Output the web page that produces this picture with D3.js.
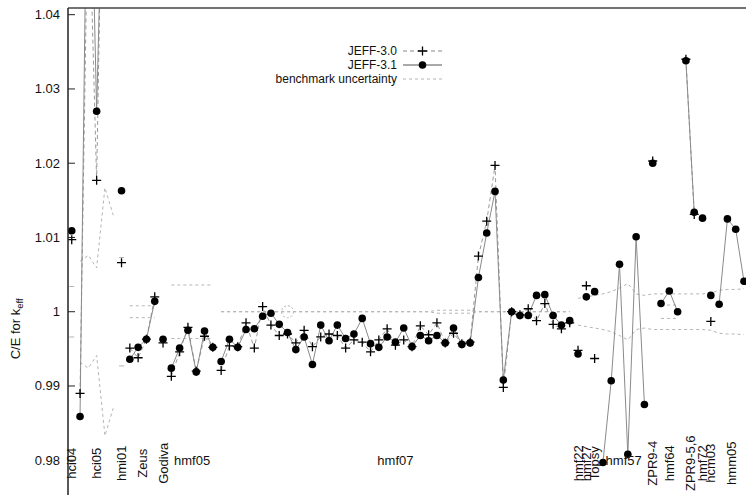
<!DOCTYPE html>
<html><head><meta charset="utf-8">
<script src="https://cdn.jsdelivr.net/npm/d3@7"></script>
<style>
body{margin:0;background:#fff}
svg{display:block}
text{font-family:"Liberation Sans",Arial,Helvetica,sans-serif;fill:#111}
</style>
</head><body>
<svg id="chart" width="746" height="495"></svg>
<script>
// C/E values for k_eff, one entry per benchmark case (index along the x axis)
const jeff30 = [
  1.0097,
  0.9890, 1.0590, 1.0177, 1.0820, 1.0700,
  1.0066,
  0.9951, 0.9938, 0.9963, 1.0020,
  0.9958,
  0.9913, 0.9946, 0.9979, 0.9920, 0.9967, 0.9952,
  0.9921, 0.9954, 0.9953, 0.9985, 0.9951, 1.0007, 0.9982, 0.9968, 0.9970, 0.9958,
  0.9975, 0.9953, 0.9966, 0.9970, 0.9968, 0.9951, 0.9962, 0.9959, 0.9946, 0.9962,
  0.9977, 0.9955, 0.9962, 0.9953, 0.9981, 0.9969, 0.9985, 0.9958, 0.9971, 0.9957,
  0.9959, 1.0075, 1.0122, 1.0197, 0.9898, 1.0000, 0.9996, 1.0004, 0.9988, 1.0011,
  0.9983, 0.9977, 0.9985,
  0.9948,
  1.0035,
  0.9937,
  null, null, null, null, null, null,
  1.0203,
  null, null, null,
  1.0340, 1.0131,
  null,
  0.9987,
  null, null, null, null
];
const jeff31 = [
  1.0109,
  0.9859, 1.0770, 1.0270, 1.0720, 1.0650,
  1.0163,
  0.9936, 0.9952, 0.9963, 1.0014,
  0.9963,
  0.9924, 0.9951, 0.9975, 0.9919, 0.9974, 0.9952,
  0.9933, 0.9963, 0.9952, 0.9976, 0.9977, 0.9994, 0.9998, 0.9983, 0.9972, 0.9949,
  0.9966, 0.9929, 0.9982, 0.9961, 0.9982, 0.9964, 0.9970, 0.9991, 0.9957, 0.9952,
  0.9966, 0.9959, 0.9978, 0.9953, 0.9968, 0.9961, 0.9968, 0.9958, 0.9978, 0.9956,
  0.9958, 1.0046, 1.0106, 1.0162, 0.9908, 1.0000, 0.9995, 0.9995, 1.0022, 1.0023,
  0.9995, 0.9982, 0.9988,
  0.9943,
  1.0020,
  1.0027,
  0.9797, 0.9907, 1.0064, 0.9808, 1.0101, 0.9875,
  1.0200,
  1.0011, 1.0028, 1.0000,
  1.0338, 1.0134,
  1.0126,
  1.0022,
  1.0010, 1.0125, 1.0111, 1.0041
];

// benchmark families: first and last case index of each
const groupNames = ["hci04", "hci05", "hmi01", "Zeus", "Godiva", "hmf05", "hmf07", "hmf22", "hmf27",
                    "Topsy", "hmf57", "ZPR9-4", "hmf64", "ZPR9-5,6", "hmf72", "hcm03", "hmm05"];
const groupStart = [0, 1, 6, 7, 11, 12, 18, 61, 62, 63, 64, 70, 71, 74, 76, 77, 78];
const groupEnd   = [0, 5, 6, 10, 11, 17, 60, 61, 62, 63, 69, 70, 73, 75, 76, 77, 81];
const flatLabels = ["hmf05", "hmf07", "hmf57"];

// benchmark uncertainty (half width around C/E = 1), in runs of consecutive cases
const bandStart = [0, 1, 6, 7, 12, 18, 61, 71];
const bandHalfWidth = [
  [0.0034],
  [0.0068, 0.0076, 0.0059, 0.0167, 0.0130],
  [0.0073],
  [0.0008, 0.0008, 0.0008, 0.0008],
  [0.0036, 0.0036, 0.0036, 0.0036, 0.0036, 0.0036],
  [0, 0, 0, 0, 0, 0, 0, 0, 0, 0, 0, 0, 0, 0, 0, 0, 0, 0, 0, 0, 0, 0, 0, 0, 0, 0,
   0.0002, 0.0002, 0.0002, 0.0002, 0.0002,
   0, 0, 0, 0, 0, 0, 0, 0, 0, 0, 0, 0],
  [0.0018, 0.0020, 0.0022, 0.0024, 0.0027, 0.0032, 0.0038, 0.0024, 0.0022, 0.0024, 0.0024,
   0.0024, 0.0024, 0.0024, 0.0024, 0.0024, 0.0025, 0.0029, 0.0030, 0.0030, 0.0031],
  [0.0009, 0.0009, 0.0009]
];
const bandMarkIndex = [26];

const yTicks = [0.98, 0.99, 1.00, 1.01, 1.02, 1.03, 1.04];
const yTickLabels = ["0.98", "0.99", "1", "1.01", "1.02", "1.03", "1.04"];

const legendLabels = ["JEFF-3.0", "JEFF-3.1", "benchmark uncertainty"];

(function draw() {
  const svg = d3.select("#chart");
  const pLeft = 68, pTop = 8, pRight = 749, pBottom = 510;

  const x = d3.scaleLinear().domain([-0.45, 81.6]).range([pLeft, pRight]);
  const y = d3.scaleLinear().domain([0.9733, 1.0409]).range([pBottom, pTop]);

  svg.append("defs").append("clipPath").attr("id", "plotclip")
    .append("rect").attr("x", pLeft).attr("y", pTop)
    .attr("width", pRight - pLeft).attr("height", pBottom - pTop);

  const plot = svg.append("g").attr("clip-path", "url(#plotclip)");

  const lineGen = d3.line()
    .defined(d => d.v != null)
    .x(d => x(d.i))
    .y(d => y(d.v));

  // benchmark uncertainty band
  const bandColor = "#b4b4b4";
  bandStart.forEach((s, k) => {
    const hw = bandHalfWidth[k];
    [1, -1].forEach(sign => {
      const pts = hw.map((u, j) => ({ i: s + j, v: 1 + sign * u }));
      if (pts.length > 1) {
        plot.append("path").attr("d", lineGen(pts))
          .attr("fill", "none").attr("stroke", bandColor).attr("stroke-width", 1)
          .attr("stroke-dasharray", "3,3");
      } else {
        const p = pts[0];
        plot.append("line")
          .attr("x1", x(p.i) - 2.5).attr("x2", x(p.i) + 2.5)
          .attr("y1", y(p.v)).attr("y2", y(p.v))
          .attr("stroke", bandColor).attr("stroke-width", 1);
      }
    });
  });
  bandMarkIndex.forEach(i => {
    plot.append("circle").attr("cx", x(i)).attr("cy", y(1)).attr("r", 6)
      .attr("fill", "none").attr("stroke", bandColor).attr("stroke-width", 1)
      .attr("stroke-dasharray", "2,2");
  });

  // series lines, joined only within each family
  function seriesPoints(values, g) {
    const pts = [];
    for (let i = groupStart[g]; i <= groupEnd[g]; i++) pts.push({ i, v: values[i] });
    return pts;
  }
  groupNames.forEach((name, g) => {
    plot.append("path").attr("d", lineGen(seriesPoints(jeff30, g)))
      .attr("fill", "none").attr("stroke", "#9a9a9a").attr("stroke-width", 1)
      .attr("stroke-dasharray", "4,3");
    plot.append("path").attr("d", lineGen(seriesPoints(jeff31, g)))
      .attr("fill", "none").attr("stroke", "#8a8a8a").attr("stroke-width", 1);
  });

  // markers
  const plusPath = "M-4.5,0H4.5M0,-4.5V4.5";
  jeff30.forEach((v, i) => {
    if (v == null) return;
    plot.append("path").attr("d", plusPath)
      .attr("transform", `translate(${x(i)},${y(v)})`)
      .attr("stroke", "#000").attr("stroke-width", 1.3).attr("fill", "none");
  });
  jeff31.forEach((v, i) => {
    if (v == null) return;
    plot.append("circle").attr("cx", x(i)).attr("cy", y(v)).attr("r", 3.8).attr("fill", "#000");
  });

  // frame
  svg.append("line").attr("x1", pLeft).attr("x2", 746).attr("y1", pTop).attr("y2", pTop)
    .attr("stroke", "#444").attr("stroke-width", 1.5);
  svg.append("line").attr("x1", pLeft).attr("x2", pLeft).attr("y1", pTop).attr("y2", 495)
    .attr("stroke", "#222").attr("stroke-width", 1.5);

  // y axis
  yTicks.forEach((t, k) => {
    svg.append("line").attr("x1", pLeft).attr("x2", pLeft + 7)
      .attr("y1", y(t)).attr("y2", y(t)).attr("stroke", "#222").attr("stroke-width", 1);
    svg.append("text").attr("x", 60).attr("y", y(t))
      .attr("text-anchor", "end").attr("dominant-baseline", "central")
      .attr("font-size", 13).text(yTickLabels[k]);
  });

  const ylab = svg.append("text")
    .attr("transform", `translate(20,${y(0.9977)}) rotate(-90)`)
    .attr("text-anchor", "middle").attr("font-size", 13);
  ylab.append("tspan").text("C/E for k");
  ylab.append("tspan").attr("font-size", 9.5).attr("dy", 3).text("eff");

  // family labels along the bottom
  groupNames.forEach((name, g) => {
    const cx = x((groupStart[g] + groupEnd[g]) / 2);
    const cy = y(0.98);
    const t = svg.append("text").attr("font-size", 13)
      .attr("text-anchor", "middle").attr("dominant-baseline", "central").text(name);
    if (flatLabels.includes(name)) {
      t.attr("x", cx).attr("y", cy);
    } else {
      t.attr("transform", `translate(${cx},${cy + 3}) rotate(-90)`);
    }
  });

  // legend
  const legX = 397, sampleX0 = 403, sampleX1 = 442, legY = [51, 65, 79];
  legendLabels.forEach((lab, k) => {
    svg.append("text").attr("x", legX).attr("y", legY[k])
      .attr("text-anchor", "end").attr("dominant-baseline", "central")
      .attr("font-size", 12).text(lab);
  });
  svg.append("line").attr("x1", sampleX0).attr("x2", sampleX1).attr("y1", legY[0]).attr("y2", legY[0])
    .attr("stroke", "#888").attr("stroke-dasharray", "4,3");
  svg.append("path").attr("d", plusPath)
    .attr("transform", `translate(${(sampleX0 + sampleX1) / 2},${legY[0]})`)
    .attr("stroke", "#000").attr("stroke-width", 1.3);
  svg.append("line").attr("x1", sampleX0).attr("x2", sampleX1).attr("y1", legY[1]).attr("y2", legY[1])
    .attr("stroke", "#555").attr("stroke-width", 1.2);
  svg.append("circle").attr("cx", (sampleX0 + sampleX1) / 2).attr("cy", legY[1]).attr("r", 3.8).attr("fill", "#000");
  svg.append("line").attr("x1", sampleX0).attr("x2", sampleX1).attr("y1", legY[2]).attr("y2", legY[2])
    .attr("stroke", bandColor).attr("stroke-dasharray", "3,3");
})();
</script>
</body></html>
